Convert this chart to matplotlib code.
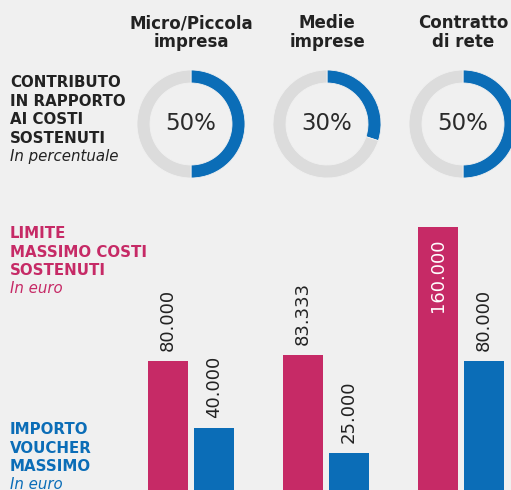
import matplotlib
matplotlib.use("Agg")
import matplotlib.pyplot as plt

# ---- data ----
categories = ["Micro/Piccola\nimpresa", "Medie\nimprese", "Contratto\ndi rete"]
contributo_pct = [50, 30, 50]
limite_costi = [80000, 83333, 160000]
voucher_max = [40000, 25000, 80000]
limite_labels = ["80.000", "83.333", "160.000"]
voucher_labels = ["40.000", "25.000", "80.000"]

BG = "#F0F0F0"
PINK = "#C62A66"
BLUE = "#0B6DB7"
GRAY = "#DCDCDC"
DARK = "#222222"

W, H = 511, 490
fig = plt.figure(figsize=(W / 100, H / 100), dpi=100, facecolor=BG)

def px(x, y):
    """pixel (from top-left) -> figure fraction"""
    return x / W, 1 - y / H

# ---- bar chart axes (full width, baseline slightly below bottom) ----
base_px = 494.3
scale = 0.00167  # px per euro
group_px = [191, 326, 461]
spacing = 135.0
ax = fig.add_axes([0, (H - base_px) / H, 1, base_px / H])
ax.set_facecolor("none")
ax.set_xlim(-group_px[0] / spacing, (W - group_px[0]) / spacing)
ax.set_ylim(0, base_px / scale)
ax.axis("off")

xs = list(range(len(categories)))
bw = 40 / spacing
off = 0.17
pink_bars = ax.bar([x - off for x in xs], limite_costi, width=bw, color=PINK)
blue_bars = ax.bar([x + off for x in xs], voucher_max, width=bw, color=BLUE)

for i, (b, lab) in enumerate(zip(pink_bars, limite_labels)):
    cx = b.get_x() + b.get_width() / 2
    if i == 2:
        ax.annotate(lab, (cx, b.get_height()), xytext=(0, -8), textcoords="offset points",
                    rotation=90, ha="center", va="top", fontsize=13, color="white")
    else:
        ax.annotate(lab, (cx, b.get_height()), xytext=(0, 7), textcoords="offset points",
                    rotation=90, ha="center", va="bottom", fontsize=13, color=DARK)
for b, lab in zip(blue_bars, voucher_labels):
    cx = b.get_x() + b.get_width() / 2
    ax.annotate(lab, (cx, b.get_height()), xytext=(0, 7), textcoords="offset points",
                rotation=90, ha="center", va="bottom", fontsize=13, color=DARK)

# ---- donuts ----
donut_cx = [191, 327, 463]
donut_cy = 124
R = 54
for cx, pct, cat in zip(donut_cx, contributo_pct, categories):
    l, t = px(cx - R, donut_cy - R)
    dax = fig.add_axes([l, t - 2 * R / H, 2 * R / W, 2 * R / H])
    dax.pie([pct, 100 - pct], colors=[BLUE, GRAY], startangle=90, counterclock=False,
            radius=1, wedgeprops=dict(width=13 / R, edgecolor=BG, linewidth=0.6))
    dax.set_xlim(-1, 1)
    dax.set_ylim(-1, 1)
    dax.set_aspect("auto")
    dax.text(0, 0, f"{pct}%", ha="center", va="center", fontsize=16.5, color="#2a2a2a")
    # titles
    l1, l2 = cat.split("\n")
    fig.text(*px(cx, 28.3), l1, ha="center", va="baseline", fontsize=12,
             fontweight="bold", color=DARK)
    fig.text(*px(cx, 47), l2, ha="center", va="baseline", fontsize=12,
             fontweight="bold", color=DARK)

# ---- left side labels ----
def block(lines, ys, color, italic_last=True):
    for i, (s, y) in enumerate(zip(lines, ys)):
        last = i == len(lines) - 1
        if last and italic_last:
            fig.text(*px(10, y), s, ha="left", va="baseline", fontsize=10.8,
                     fontstyle="italic", color=color)
        else:
            fig.text(*px(10, y), s, ha="left", va="baseline", fontsize=10.8,
                     fontweight="bold", color=color)

block(["CONTRIBUTO", "IN RAPPORTO", "AI COSTI", "SOSTENUTI", "In percentuale"],
      [87.3, 105.7, 124, 142.7, 161], DARK)
block(["LIMITE", "MASSIMO COSTI", "SOSTENUTI", "In euro"],
      [238.3, 256.7, 275, 293], PINK)
block(["IMPORTO", "VOUCHER", "MASSIMO", "In euro"],
      [434.3, 452.7, 471, 489], BLUE)

fig.savefig("out.png", dpi=100, facecolor=BG)
